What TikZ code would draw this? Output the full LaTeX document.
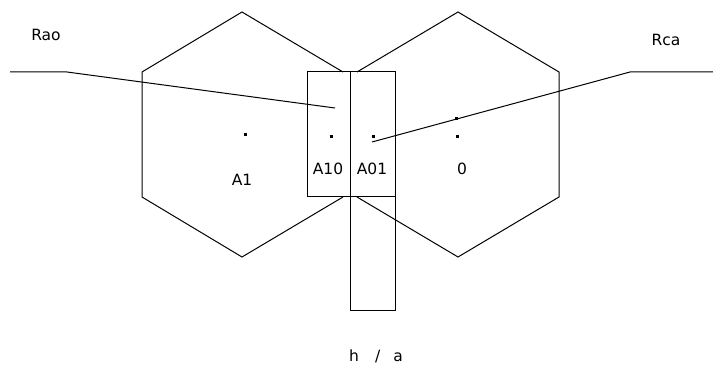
\documentclass[tikz,border=0pt]{standalone}
\usepackage{fontspec}
\setmainfont{DejaVu Sans}
\begin{document}
\begin{tikzpicture}[x=1pt,y=-1pt,
  edge/.style={draw=black,line width=1pt},
  lbl/.style={inner sep=0pt,font=\fontsize{15.5}{18}\selectfont},
  pt/.style={fill=black,minimum size=3pt,inner sep=0pt,draw=none}]
\useasboundingbox (0,0) rectangle (713,374);
% left hexagon (open on the right side)
\coordinate (L1) at (343,72);
\coordinate (L2) at (242,12);
\coordinate (L3) at (142,72);
\coordinate (L4) at (142,197);
\coordinate (L5) at (242,257);
\coordinate (L6) at (343,197);
\draw[edge] (L1) -- (L2) -- (L3) -- (L4) -- (L5) -- (L6);
% right hexagon (open on the left side)
\coordinate (R1) at (357,72);
\coordinate (R2) at (458,12);
\coordinate (R3) at (559,72);
\coordinate (R4) at (559,197);
\coordinate (R5) at (458,257);
\coordinate (R6) at (357,197);
\draw[edge] (R1) -- (R2) -- (R3) -- (R4) -- (R5) -- (R6);
% rectangles
\draw[edge] (307,72) rectangle (350,197);
\draw[edge] (350,72) rectangle (395,197);
\draw[edge] (350,72) rectangle (395,311);
% dots
\node[pt] (dA1) at (245,135) {};
\node[pt] (dA10) at (331,137) {};
\node[pt] (dA01) at (373,137) {};
\node[pt] (dO) at (457,137) {};
\node[pt] (dM) at (456,119) {};
% connectors
\coordinate (raoS) at (10,72);
\coordinate (raoK) at (67,72);
\coordinate (raoE) at (335,108);
\draw[edge] (raoS) -- (raoK) -- (raoE);
\coordinate (rcaS) at (713,72);
\coordinate (rcaK) at (630,72);
\coordinate (rcaE) at (372,142);
\draw[edge] (rcaS) -- (rcaK) -- (rcaE);
% labels
\node[lbl] (tRao) at (46,35) {Rao};
\node[lbl] (tRca) at (666,40) {Rca};
\node[lbl] (tA1) at (242,180) {A1};
\node[lbl] (tA10) at (328,169) {A10};
\node[lbl] (tA01) at (372,169) {A01};
\node[lbl] (tO) at (462,169) {0};
\node[lbl] (tha) at (376,356) {h\hspace{16pt}/\hspace{13pt}a};
\end{tikzpicture}
\end{document}
